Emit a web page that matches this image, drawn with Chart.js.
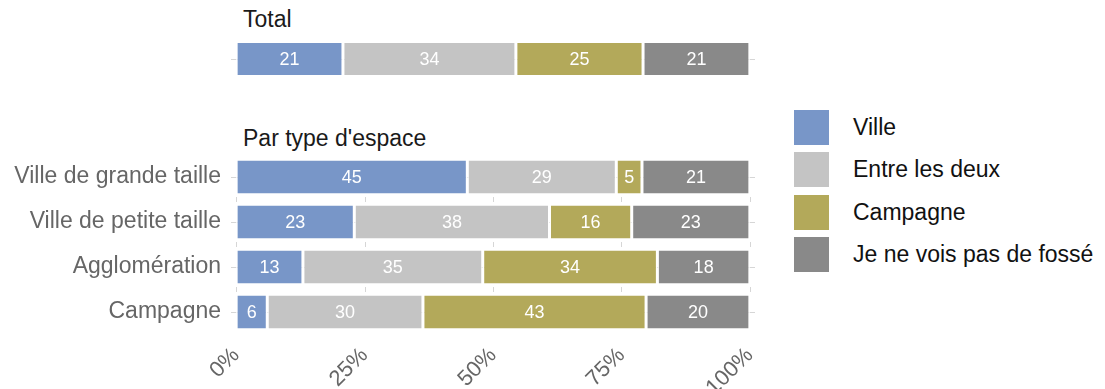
<!DOCTYPE html>
<html>
<head>
<meta charset="utf-8">
<script src="https://cdn.jsdelivr.net/npm/chart.js@4.4.1/dist/chart.umd.min.js"></script>
<style>
  body { margin: 0; background: #fff; font-family: "Liberation Sans", Arial, sans-serif; }
  #wrap { position: relative; width: 1105px; height: 389px; overflow: hidden; }
  .strip { position: absolute; left: 243px; font-size: 23px; line-height: 23px; color: #1a1a1a; white-space: nowrap; }
  canvas { position: absolute; left: 0; }
  #totalChart { top: 40px; }
  #typeChart { top: 150px; }
  .leg { position: absolute; left: 794px; display: flex; align-items: center; font-size: 23px; color: #111; white-space: nowrap; }
  .leg .sw { width: 35px; height: 35px; margin-right: 24px; }
</style>
</head>
<body>
<div id="wrap">
  <div class="strip" style="top:7.5px">Total</div>
  <div class="strip" style="top:126.5px">Par type d'espace</div>
  <canvas id="totalChart" width="780" height="38"></canvas>
  <canvas id="typeChart" width="780" height="239"></canvas>
  <div id="legend"></div>
</div>
<script>
const seriesNames = ['Ville', 'Entre les deux', 'Campagne', 'Je ne vois pas de fossé'];
const seriesColors = ['#7896c8', '#c4c4c4', '#b3a95a', '#898989'];

// ensemble des répondants
const totalValues = [21, 34, 25, 21];

// par type d'espace
const categories = ['Ville de grande taille', 'Ville de petite taille', 'Agglomération', 'Campagne'];
const ville = [45, 23, 13, 6];
const entreLesDeux = [29, 38, 35, 30];
const campagne = [5, 16, 34, 43];
const pasDeFosse = [21, 23, 18, 20];

const tickValues = [0, 25, 50, 75, 100];
const tickLabels = ['0%', '25%', '50%', '75%', '100%'];

const fontFamily = '"Liberation Sans", Arial, sans-serif';

// les barres sont remplies à 100% (les pourcentages affichés sont arrondis)
function fillRows(seriesList) {
  const n = seriesList[0].length;
  const sums = [];
  for (let r = 0; r < n; r++) {
    sums.push(seriesList.reduce((s, arr) => s + arr[r], 0));
  }
  return seriesList.map((arr, i) => ({
    label: seriesNames[i],
    data: arr.map((v, r) => v / sums[r] * 100),
    shown: arr,
    backgroundColor: seriesColors[i],
    borderColor: '#ffffff',
    borderWidth: { left: 1.5, right: 1.5, top: 0, bottom: 0 },
    borderSkipped: false
  }));
}

const barLabels = {
  id: 'barLabels',
  afterDatasetsDraw(chart) {
    const ctx = chart.ctx;
    ctx.save();
    ctx.font = '18px ' + fontFamily;
    ctx.fillStyle = '#ffffff';
    ctx.textAlign = 'center';
    ctx.textBaseline = 'middle';
    chart.data.datasets.forEach((ds, i) => {
      chart.getDatasetMeta(i).data.forEach((bar, j) => {
        ctx.fillText(ds.shown[j], (bar.x + bar.base) / 2, bar.y + 1);
      });
    });
    ctx.restore();
  }
};

const panelGrid = {
  id: 'panelGrid',
  beforeDatasetsDraw(chart) {
    const { ctx, chartArea, scales } = chart;
    const bars = chart.getDatasetMeta(0).data;
    ctx.save();
    ctx.strokeStyle = '#d6d6d6';
    ctx.lineWidth = 1;
    bars.forEach((b, j) => {
      const y = Math.round(b.y) + 0.5;
      ctx.beginPath();
      ctx.moveTo(chartArea.left, y);
      ctx.lineTo(chartArea.right, y);
      ctx.stroke();
      if (j < bars.length - 1) {
        const mid = (b.y + bars[j + 1].y) / 2;
        tickValues.forEach(v => {
          const x = Math.round(scales.x.getPixelForValue(v)) + 0.5;
          ctx.beginPath();
          ctx.moveTo(x, mid - 2.5);
          ctx.lineTo(x, mid + 2.5);
          ctx.stroke();
        });
      }
    });
    ctx.restore();
  }
};

Chart.defaults.font.family = fontFamily;

new Chart(document.getElementById('totalChart'), {
  type: 'bar',
  data: {
    labels: ['Total'],
    datasets: fillRows(totalValues.map(v => [v]))
  },
  options: {
    indexAxis: 'y',
    responsive: false,
    animation: false,
    layout: { padding: { left: 231, right: 25, top: 0, bottom: 0 } },
    datasets: { bar: { barPercentage: 0.842, categoryPercentage: 1 } },
    plugins: { legend: { display: false }, tooltip: { enabled: false } },
    scales: {
      x: { stacked: true, min: -1, max: 101, display: false },
      y: { stacked: true, display: false }
    }
  },
  plugins: [panelGrid, barLabels]
});

new Chart(document.getElementById('typeChart'), {
  type: 'bar',
  data: {
    labels: categories,
    datasets: fillRows([ville, entreLesDeux, campagne, pasDeFosse])
  },
  options: {
    indexAxis: 'y',
    responsive: false,
    animation: false,
    layout: { padding: { left: 0, right: 25, top: 4.5, bottom: 0 } },
    datasets: { bar: { barPercentage: 0.733, categoryPercentage: 1 } },
    plugins: { legend: { display: false }, tooltip: { enabled: false } },
    scales: {
      x: {
        stacked: true,
        min: -1,
        max: 101,
        afterBuildTicks: s => { s.ticks = tickValues.map(v => ({ value: v })); },
        grid: { display: false, drawTicks: false },
        border: { display: false },
        ticks: {
          color: '#666',
          font: { size: 22 },
          minRotation: 45,
          maxRotation: 45,
          autoSkip: false,
          padding: 8,
          callback: (v, i) => tickLabels[i]
        },
        afterFit: s => { s.height = 54.5; s.paddingLeft = 0; s.paddingRight = 0; }
      },
      y: {
        stacked: true,
        grid: { display: false, drawTicks: false },
        border: { display: false },
        ticks: { color: '#666', font: { size: 23 }, padding: 10 },
        afterFit: s => { s.width = 231; s.paddingTop = 0; s.paddingBottom = 0; }
      }
    }
  },
  plugins: [panelGrid, barLabels]
});

// légende
const legend = document.getElementById('legend');
seriesNames.forEach((name, i) => {
  const item = document.createElement('div');
  item.className = 'leg';
  item.style.top = (110 + i * 42.4) + 'px';
  const sw = document.createElement('span');
  sw.className = 'sw';
  sw.style.background = seriesColors[i];
  const txt = document.createElement('span');
  txt.textContent = name;
  item.appendChild(sw);
  item.appendChild(txt);
  legend.appendChild(item);
});
</script>
</body>
</html>
